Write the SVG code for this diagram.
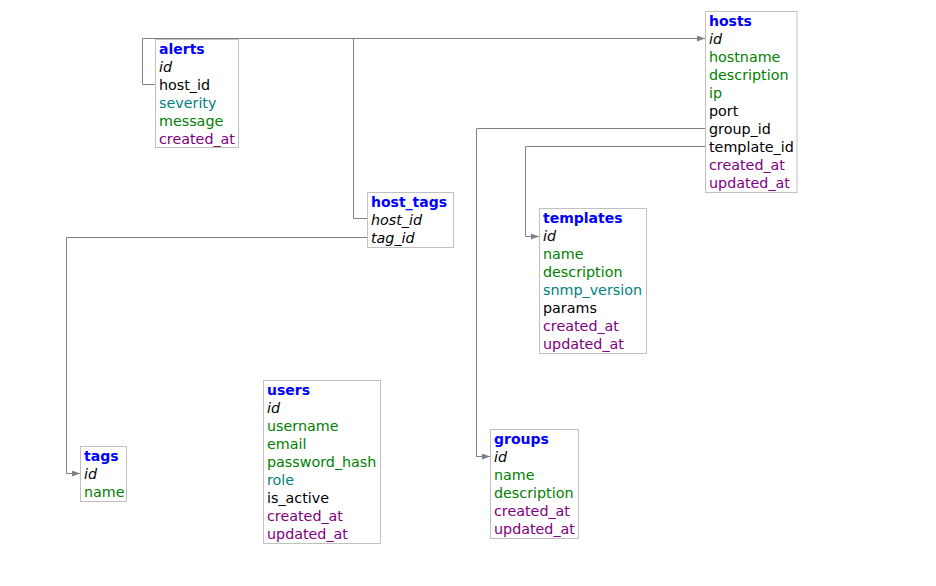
<svg xmlns="http://www.w3.org/2000/svg" width="936" height="586" viewBox="0 0 936 586">
<defs>
<marker id="arr" markerWidth="8" markerHeight="6" refX="8" refY="3" orient="auto" markerUnits="userSpaceOnUse">
<path d="M0,0 L8,3 L0,6 z" fill="#808080"/>
</marker>
<style>
text{font-family:"DejaVu Sans",Verdana,sans-serif;font-size:14.3px;}
.box{fill:#ffffff;stroke:#c0c0c0;stroke-width:1;}
.t{fill:#0000ff;font-weight:bold;font-size:14px;}
.pk{fill:#000000;font-style:italic;}
.g{fill:#008000;}
.c{fill:#008080;}
.p{fill:#800080;}
.k{fill:#000000;}
.ln{fill:none;stroke:#808080;stroke-width:1;}
</style>
</defs>
<rect width="936" height="586" fill="#ffffff"/>
<g id="connectors">
<path class="ln" d="M156,84.5 H142.5 V38.5 H705" marker-end="url(#arr)"/>
<path class="ln" d="M367,218.5 H353.5 V38.5"/>
<path class="ln" d="M705,128.5 H476.5 V456.5 H490" marker-end="url(#arr)"/>
<path class="ln" d="M705,146.5 H525.5 V236.5 H539" marker-end="url(#arr)"/>
<path class="ln" d="M367,237.5 H66.5 V473.5 H80" marker-end="url(#arr)"/>
</g>
<g id="alerts">
<rect class="box" x="155.5" y="39.5" width="83" height="108"/>
<text x="159" y="54" class="t">alerts</text>
<text x="159" y="72" class="pk">id</text>
<text x="159" y="90" class="k">host_id</text>
<text x="159" y="108" class="c">severity</text>
<text x="159" y="126" class="g">message</text>
<text x="159" y="144" class="p">created_at</text>
</g>
<g id="hosts">
<rect class="box" x="705.5" y="11.5" width="91.5" height="181"/>
<text x="709" y="26" class="t">hosts</text>
<text x="709" y="44" class="pk">id</text>
<text x="709" y="62" class="g">hostname</text>
<text x="709" y="80" class="g">description</text>
<text x="709" y="98" class="g">ip</text>
<text x="709" y="116" class="k">port</text>
<text x="709" y="134" class="k">group_id</text>
<text x="709" y="152" class="k">template_id</text>
<text x="709" y="170" class="p">created_at</text>
<text x="709" y="188" class="p">updated_at</text>
</g>
<g id="host_tags">
<rect class="box" x="367.5" y="192.5" width="86" height="55"/>
<text x="371" y="207" class="t">host_tags</text>
<text x="371" y="225" class="pk">host_id</text>
<text x="371" y="243" class="pk">tag_id</text>
</g>
<g id="templates">
<rect class="box" x="539.5" y="208.5" width="107" height="145"/>
<text x="543" y="223" class="t">templates</text>
<text x="543" y="241" class="pk">id</text>
<text x="543" y="259" class="g">name</text>
<text x="543" y="277" class="g">description</text>
<text x="543" y="295" class="c">snmp_version</text>
<text x="543" y="313" class="k">params</text>
<text x="543" y="331" class="p">created_at</text>
<text x="543" y="349" class="p">updated_at</text>
</g>
<g id="groups">
<rect class="box" x="490.5" y="429.5" width="88" height="109"/>
<text x="494" y="444" class="t">groups</text>
<text x="494" y="462" class="pk">id</text>
<text x="494" y="480" class="g">name</text>
<text x="494" y="498" class="g">description</text>
<text x="494" y="516" class="p">created_at</text>
<text x="494" y="534" class="p">updated_at</text>
</g>
<g id="tags">
<rect class="box" x="80.5" y="446.5" width="46" height="55"/>
<text x="84" y="461" class="t">tags</text>
<text x="84" y="479" class="pk">id</text>
<text x="84" y="497" class="g">name</text>
</g>
<g id="users">
<rect class="box" x="263.5" y="380.5" width="117" height="163"/>
<text x="267" y="395" class="t">users</text>
<text x="267" y="413" class="pk">id</text>
<text x="267" y="431" class="g">username</text>
<text x="267" y="449" class="g">email</text>
<text x="267" y="467" class="g">password_hash</text>
<text x="267" y="485" class="c">role</text>
<text x="267" y="503" class="k">is_active</text>
<text x="267" y="521" class="p">created_at</text>
<text x="267" y="539" class="p">updated_at</text>
</g>
</svg>
